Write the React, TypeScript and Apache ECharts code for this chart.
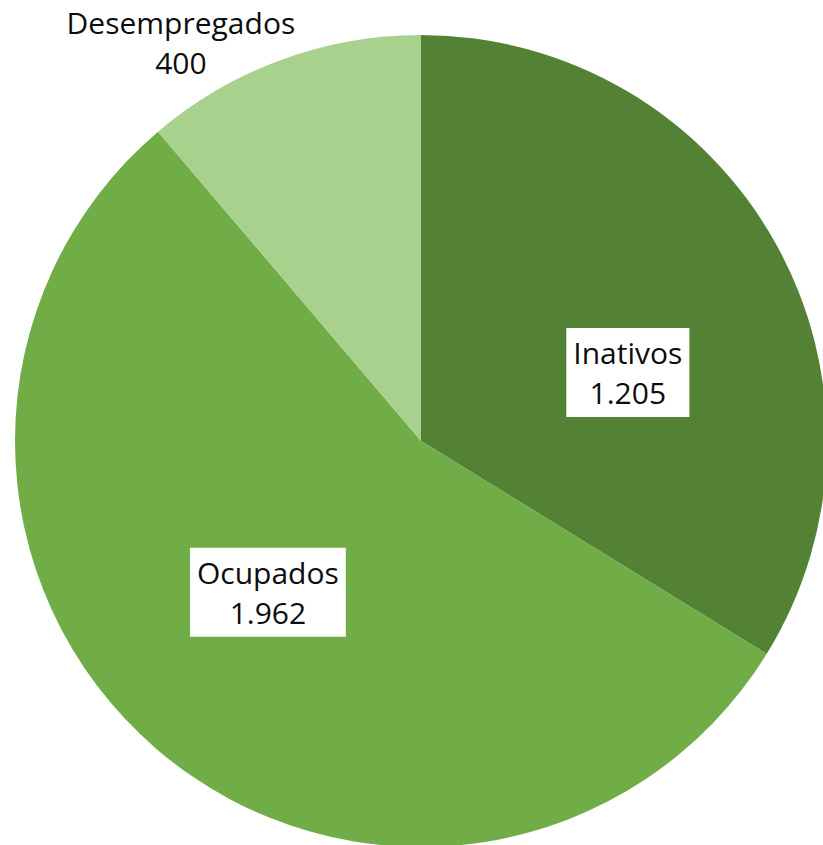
import React, { useEffect, useRef } from "react";
import * as echarts from "echarts";

const categories = ["Inativos", "Ocupados", "Desempregados"];
const values = [1205, 1962, 400];
const colors = ["#548235", "#70AD47", "#A9D18E"];
const labelShifts = [
  [27, 32],
  [-19, -5],
  [-169, -205],
];

function fmt(n: number): string {
  return String(n).replace(/\B(?=(\d{3})+(?!\d))/g, ".");
}

export default function App() {
  const ref = useRef<HTMLDivElement>(null);
  useEffect(() => {
    if (!ref.current) return;
    const chart = echarts.init(ref.current, null, { renderer: "svg" });
    chart.setOption({
      animation: false,
      series: [
        {
          type: "pie",
          center: [421, 441],
          radius: [0, 406],
          startAngle: 90,
          clockwise: true,
          avoidLabelOverlap: false,
          itemStyle: { borderWidth: 0 },
          label: {
            show: true,
            position: "inside",
            formatter: (p: any) => `${p.name}\n${fmt(p.value)}`,
            fontFamily: "'Open Sans', 'Noto Sans', sans-serif",
            fontSize: 30,
            lineHeight: 40,
            color: "#0d0d0d",
            backgroundColor: "#fff",
            padding: [5, 7, 4, 7],
            align: "center",
          },
          labelLine: { show: false },
          labelLayout: (params: any) => {
            const s = labelShifts[params.dataIndex];
            return { dx: s[0], dy: s[1] };
          },
          data: categories.map((name, i) => ({
            name,
            value: values[i],
            itemStyle: { color: colors[i] },
            label: i === 2 ? { backgroundColor: "transparent" } : undefined,
          })),
        },
      ],
    });
    return () => chart.dispose();
  }, []);
  return (
    <div
      ref={ref}
      style={{ position: "absolute", left: 0, top: 0, width: 823, height: 845 }}
    />
  );
}
